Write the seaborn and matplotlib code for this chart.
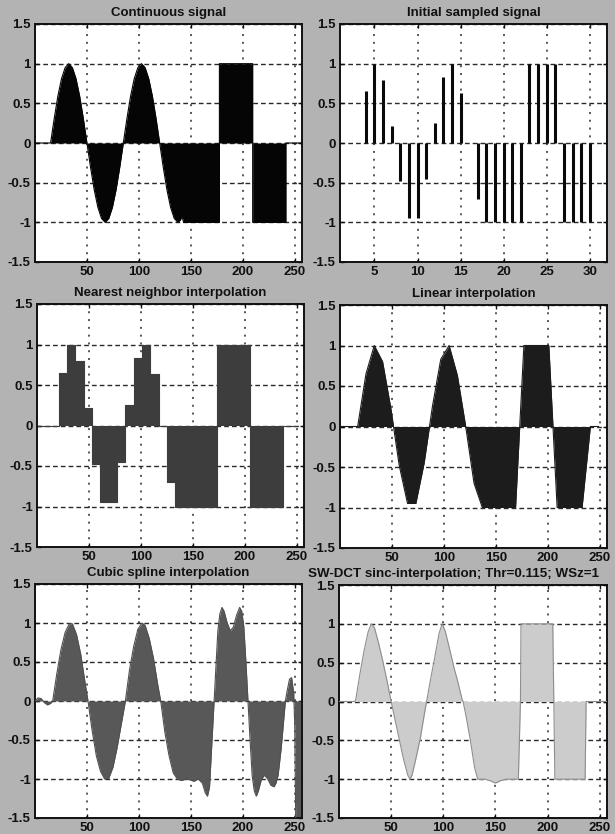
import matplotlib
matplotlib.use("Agg")
import matplotlib.pyplot as plt
import seaborn as sns
import numpy as np

# ---------------- data ----------------
# Continuous signal (outline vertices)
cont_x = [0, 15, 18.5, 22, 25.5, 29, 32.5, 36, 39.5, 43, 46.5, 50, 53.5, 57, 60.5, 64, 67.5,
          71, 74.5, 78, 81.5, 85, 88.5, 92, 95.5, 99, 102.5, 106, 109.5, 113, 116.5, 120,
          123.5, 127, 130.5, 134, 137.5, 140, 141.5, 143, 177.5, 177.5, 209.5, 209.5,
          241.5, 241.5, 257]
cont_y = [0, 0, 0.31, 0.59, 0.81, 0.95, 1.0, 0.95, 0.81, 0.59, 0.31, 0, -0.31, -0.59, -0.81,
          -0.95, -1.0, -0.95, -0.81, -0.59, -0.31, 0, 0.31, 0.59, 0.81, 0.95, 1.0, 0.95, 0.81,
          0.59, 0.31, 0, -0.31, -0.59, -0.81, -0.95, -1.0, -0.97, -0.92, -1.0, -1.0, 1.0, 1.0,
          -1.0, -1.0, 0, 0]

# Initial sampled signal (32 samples)
sample_idx = list(range(1, 33))
sample_val = [0, 0, 0, 0.65, 1.0, 0.8, 0.22, -0.48, -0.95, -0.95, -0.45, 0.25, 0.83, 1.0,
              0.63, 0.0, -0.7, -1, -1, -1, -1, -1, 1, 1, 1, 1, -1, -1, -1, -1, 0, 0]
upsample = 8

# Cubic spline interpolation (outline vertices)
spline_x = [0, 3, 6, 9, 12, 15, 17, 21, 25, 29, 33, 36, 40, 44, 48, 51, 55, 59, 63, 67, 71,
            75, 79, 83, 87, 91, 95, 99, 103, 106, 110, 114, 118, 121, 125, 129, 133, 137,
            141, 145, 149, 153, 157, 161, 164, 166, 168, 170, 172, 174, 176, 178, 180, 182,
            185, 188, 191, 194, 197, 199, 201, 203, 205, 207, 209, 211, 213, 215, 218, 221,
            224, 227, 230, 232, 234, 237, 239, 241, 243, 245, 247, 249, 250, 251, 253, 256]
spline_y = [0.0, 0.04, 0.03, -0.02, -0.05, -0.03, 0.0, 0.35, 0.66, 0.88, 0.99, 0.99, 0.85,
            0.6, 0.25, 0.0, -0.38, -0.7, -0.9, -1.0, -0.99, -0.85, -0.6, -0.3, 0.0, 0.4, 0.7,
            0.92, 1.0, 0.97, 0.8, 0.55, 0.22, 0.0, -0.4, -0.7, -0.92, -1.0, -1.02, -1.0,
            -1.01, -1.03, -1.0, -1.05, -1.18, -1.22, -1.1, -0.6, -0.1, 0.4, 0.9, 1.12, 1.2,
            1.15, 1.0, 0.9, 0.95, 1.1, 1.2, 1.15, 0.95, 0.5, 0.0, -0.5, -0.95, -1.15, -1.22,
            -1.15, -1.0, -0.95, -1.0, -1.08, -1.1, -1.05, -0.95, -0.6, -0.3, 0.0, 0.15, 0.28,
            0.3, 0.1, -0.3, -1.6, -2.5, -3.0]

# SW-DCT sinc interpolation (outline vertices)
dct_x = [0, 15, 16, 20, 24, 28, 31, 34, 38, 42, 46, 50, 54, 58, 62, 66, 68, 70, 74, 78, 82,
         84, 88, 92, 96, 99, 102, 106, 110, 114, 118, 119, 122, 126, 130, 133, 140, 145, 150,
         155, 160, 172, 173, 174, 174.5, 205, 206, 207, 236, 237, 257]
dct_y = [0, 0, 0.02, 0.35, 0.65, 0.9, 1.0, 0.95, 0.75, 0.52, 0.27, 0.0, -0.25, -0.5, -0.75,
         -0.95, -1.0, -0.95, -0.72, -0.47, -0.15, 0.0, 0.3, 0.58, 0.88, 1.0, 0.9, 0.68, 0.45,
         0.25, 0.03, 0.0, -0.2, -0.5, -0.85, -1.0, -1.0, -1.02, -1.05, -1.02, -1.0, -1.0,
         -0.5, 0.0, 1.0, 1.0, 0.0, -1.0, -1.0, 0.0, 0.0]

titles = ["Continuous signal", "Initial sampled signal", "Nearest neighbor interpolation",
          "Linear interpolation", "Cubic spline interpolation",
          "SW-DCT sinc-interpolation; Thr=0.115; WSz=1"]
x_ticks_long = [50, 100, 150, 200, 250]
x_ticks_samp = [5, 10, 15, 20, 25, 30]
y_ticks = [-1.5, -1, -0.5, 0, 0.5, 1, 1.5]
y_ticklabels = ["-1.5", "-1", "-0.5", "0", "0.5", "1", "1.5"]

# ---------------- figure ----------------
sns.set_theme(style="white")
plt.rcParams['font.family'] = ['Liberation Sans', 'DejaVu Sans']

W, H = 615, 834
fig = plt.figure(figsize=(W / 100, H / 100), dpi=100, facecolor="#b3b3b3")

def px_axes(l, t, r, b):
    return fig.add_axes([l / W, 1 - b / H, (r - l) / W, (b - t) / H])

boxes = [(35, 24, 302, 262), (340, 24, 607, 262),
         (37, 304, 304, 547), (340, 305, 607, 548),
         (35, 584, 302, 818), (339, 585, 607, 818)]
axes = [px_axes(*b) for b in boxes]

def style(ax, title, xticks, xlim, left_title=False):
    ax.set_facecolor("white")
    ax.set_xlim(*xlim)
    ax.set_ylim(-1.5, 1.5)
    ax.set_xticks(xticks)
    ax.set_xticklabels([str(t) for t in xticks])
    ax.set_yticks(y_ticks)
    ax.set_yticklabels(y_ticklabels)
    ax.xaxis.grid(True, linestyle=(0, (1.3, 3.8)), color="#2a2a2a", lw=1.1)
    ax.yaxis.grid(True, linestyle=(0, (3.4, 2.2)), color="#2a2a2a", lw=1.0)
    ax.set_axisbelow(True)
    for s in ax.spines.values():
        s.set_visible(True)
        s.set_color("#111111")
        s.set_linewidth(1.4)
    ax.tick_params(direction="in", length=3, width=1, top=True, right=True,
                   bottom=True, left=True, labelsize=9.5, pad=3, colors="#111111")
    for lab in ax.get_xticklabels() + ax.get_yticklabels():
        lab.set_fontweight("bold")
    if left_title:
        ax.annotate(title, xy=(0, 1), xycoords="axes fraction", xytext=(-22, 6),
                    textcoords="offset points", ha="left", va="baseline",
                    fontsize=9.6, fontweight="bold", color="#111111")
    else:
        ax.set_title(title, fontsize=9.5, fontweight="bold", pad=6, color="#111111")
    ax.set_xlabel("")
    ax.set_ylabel("")

def filled(ax, xs, ys, fc, ec):
    ax.fill_between(xs, ys, 0, color=fc, lw=0, zorder=2)
    sns.lineplot(x=xs, y=ys, ax=ax, color=ec, lw=0.8, estimator=None, sort=False,
                 legend=False, zorder=3)

up_x = [upsample * (k - 1) + 1 for k in sample_idx]
xlim_long = (0, 257)

# 1 continuous
filled(axes[0], cont_x, cont_y, "#050505", "#050505")
style(axes[0], titles[0], x_ticks_long, xlim_long)

# 2 sampled
axes[1].vlines(sample_idx, 0, sample_val, color="#0a0a0a", lw=2.2, zorder=3)
sns.lineplot(x=sample_idx, y=[0] * len(sample_idx), ax=axes[1], color="#0a0a0a", lw=0,
             estimator=None, legend=False)
style(axes[1], titles[1], x_ticks_samp, (1, 32))

# 3 nearest neighbour
ax = axes[2]
ax.fill_between(up_x, sample_val, 0, step="mid", color="#3d3d3d", lw=0, zorder=2)
sns.lineplot(x=up_x, y=sample_val, ax=ax, color="#3d3d3d", lw=0.8, estimator=None,
             sort=False, legend=False, drawstyle="steps-mid", zorder=3)
style(ax, titles[2], x_ticks_long, xlim_long)

# 4 linear
ax = axes[3]
ax.fill_between(up_x, sample_val, 0, interpolate=True, color="#1c1c1c", lw=0, zorder=2)
sns.lineplot(x=up_x, y=sample_val, ax=ax, color="#1c1c1c", lw=0.8, estimator=None,
             sort=False, legend=False, zorder=3)
style(ax, titles[3], x_ticks_long, xlim_long)

# 5 cubic spline
filled(axes[4], spline_x, spline_y, "#585858", "#505050")
style(axes[4], titles[4], x_ticks_long, xlim_long)

# 6 SW-DCT
filled(axes[5], dct_x, dct_y, "#cccccc", "#8e8e8e")
style(axes[5], titles[5], x_ticks_long, xlim_long, left_title=True)

fig.savefig("out.png", dpi=100, facecolor=fig.get_facecolor())
